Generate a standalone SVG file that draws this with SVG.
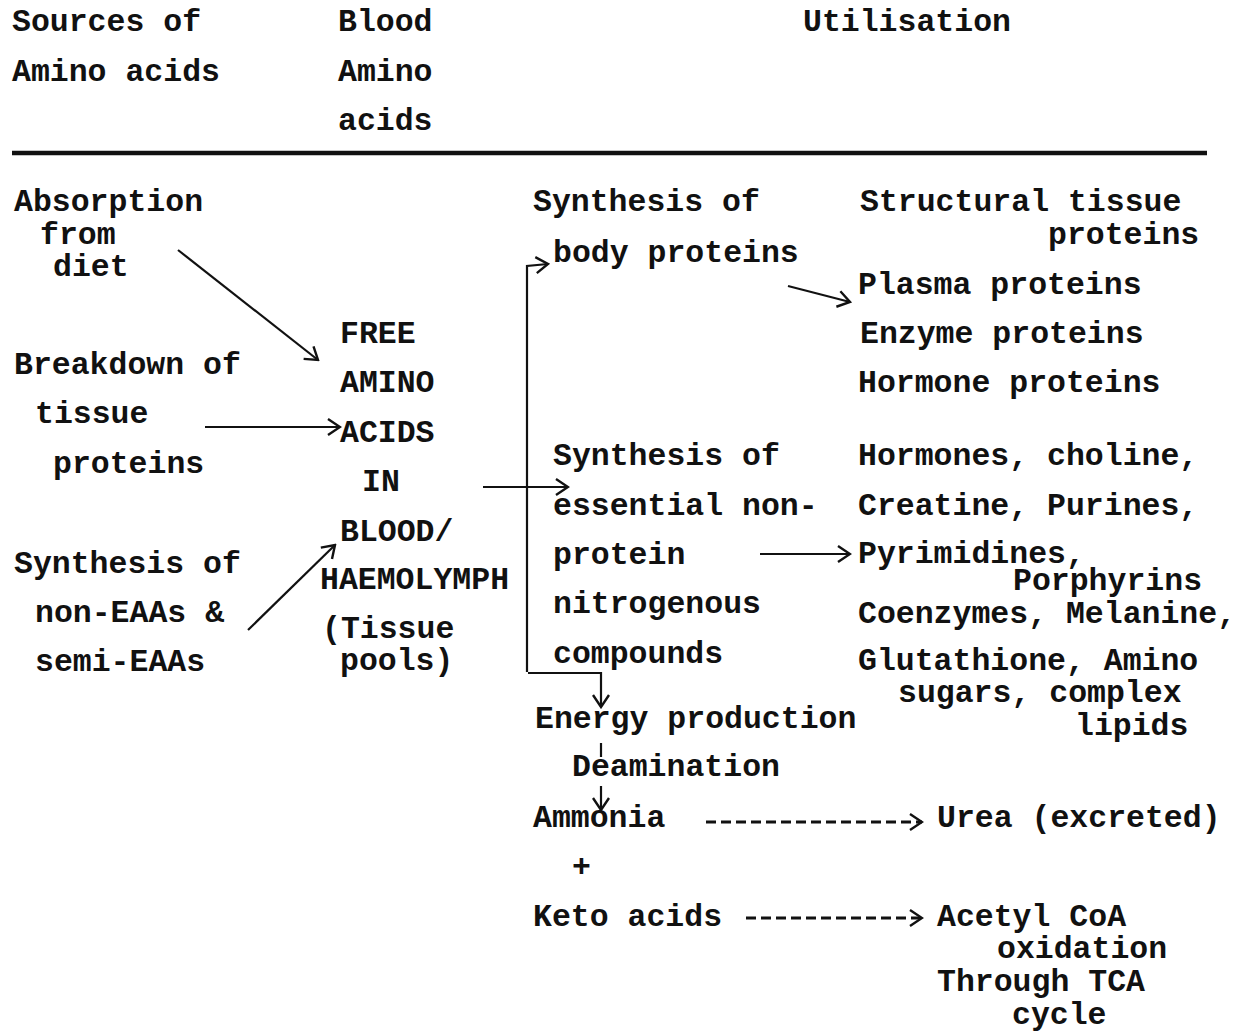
<svg xmlns="http://www.w3.org/2000/svg" width="1249" height="1034" viewBox="0 0 1249 1034">
<style>
text{font-family:"Liberation Mono","DejaVu Sans Mono",monospace;font-size:31.5px;font-weight:bold;fill:#111}
.ln{stroke:#111;stroke-width:2.2;fill:none}
.dash{stroke:#111;stroke-width:3;fill:none;stroke-dasharray:10,5}
</style>
<defs>
<marker id="ah" viewBox="0 0 20 20" refX="18" refY="10" markerWidth="20" markerHeight="20" markerUnits="userSpaceOnUse" orient="auto">
<path d="M6,2 L18,10 L6,18" fill="none" stroke="#111" stroke-width="2.4"/>
</marker>
</defs>
<rect width="1249" height="1034" fill="#fff"/>
<g id="header">
<text x="12" y="31">Sources of</text>
<text x="12" y="81">Amino acids</text>
<text x="338" y="31">Blood</text>
<text x="338" y="81">Amino</text>
<text x="338" y="130">acids</text>
<text x="803" y="31">Utilisation</text>
<line x1="12" y1="153" x2="1207" y2="153" stroke="#111" stroke-width="4.5"/>
</g>
<g id="absorption"><text x="14" y="211">Absorption</text><text x="40" y="244">from</text><text x="53" y="276">diet</text></g>
<g id="breakdown"><text x="14" y="374">Breakdown of</text><text x="35" y="423">tissue</text><text x="53" y="473">proteins</text></g>
<g id="synthesis-neaa"><text x="14" y="573">Synthesis of</text><text x="35" y="622">non-EAAs &amp;</text><text x="35" y="671">semi-EAAs</text></g>
<g id="free-aa"><text x="340" y="343">FREE</text><text x="340" y="392">AMINO</text><text x="340" y="442">ACIDS</text><text x="362" y="491">IN</text><text x="340" y="541">BLOOD/</text><text x="320" y="589">HAEMOLYMPH</text><text x="322" y="638">(Tissue</text><text x="340" y="670">pools)</text></g>
<g id="body-proteins"><text x="533" y="211">Synthesis of</text><text x="553" y="262">body proteins</text></g>
<g id="structural"><text x="860" y="211">Structural tissue</text><text x="1048" y="244">proteins</text><text x="858" y="294">Plasma proteins</text><text x="860" y="343">Enzyme proteins</text><text x="858" y="392">Hormone proteins</text></g>
<g id="nonprotein"><text x="553" y="465">Synthesis of</text><text x="553" y="515">essential non-</text><text x="553" y="564">protein</text><text x="553" y="613">nitrogenous</text><text x="553" y="663">compounds</text></g>
<g id="hormones"><text x="858" y="465">Hormones, choline,</text><text x="858" y="515">Creatine, Purines,</text><text x="858" y="563">Pyrimidines,</text><text x="1013" y="590">Porphyrins</text><text x="858" y="623">Coenzymes, Melanine,</text><text x="858" y="670">Glutathione, Amino</text><text x="898" y="702">sugars, complex</text><text x="1075" y="735">lipids</text></g>
<g id="energy"><text x="535" y="728">Energy production</text><text x="572" y="776">Deamination</text></g>
<g id="ammonia"><text x="533" y="827">Ammonia</text><text x="572" y="876">+</text><text x="533" y="926">Keto acids</text></g>
<g id="urea"><text x="937" y="827">Urea (excreted)</text></g>
<g id="acetyl"><text x="937" y="926">Acetyl CoA</text><text x="997" y="958">oxidation</text><text x="937" y="991">Through TCA</text><text x="1012" y="1024">cycle</text></g>
<g id="connectors">
<line class="ln" x1="178" y1="250" x2="318" y2="360" marker-end="url(#ah)"/>
<line class="ln" x1="205" y1="427" x2="340" y2="427" marker-end="url(#ah)"/>
<line class="ln" x1="248" y1="630" x2="335" y2="545" marker-end="url(#ah)"/>
<line class="ln" x1="483" y1="487" x2="568" y2="487" marker-end="url(#ah)"/>
<polyline class="ln" points="527,672 527,266 548,264" marker-end="url(#ah)"/>
<polyline class="ln" points="528,673 601,673 601,707" marker-end="url(#ah)"/>
<line class="ln" x1="601" y1="743" x2="601" y2="757"/>
<line class="ln" x1="601" y1="786" x2="601" y2="810" marker-end="url(#ah)"/>
<line class="ln" x1="788" y1="286" x2="850" y2="302" marker-end="url(#ah)"/>
<line class="ln" x1="760" y1="554" x2="850" y2="554" marker-end="url(#ah)"/>
<line class="dash" x1="706" y1="822" x2="922" y2="822" marker-end="url(#ah)"/>
<line class="dash" x1="746" y1="918" x2="922" y2="918" marker-end="url(#ah)"/>
</g>
</svg>
